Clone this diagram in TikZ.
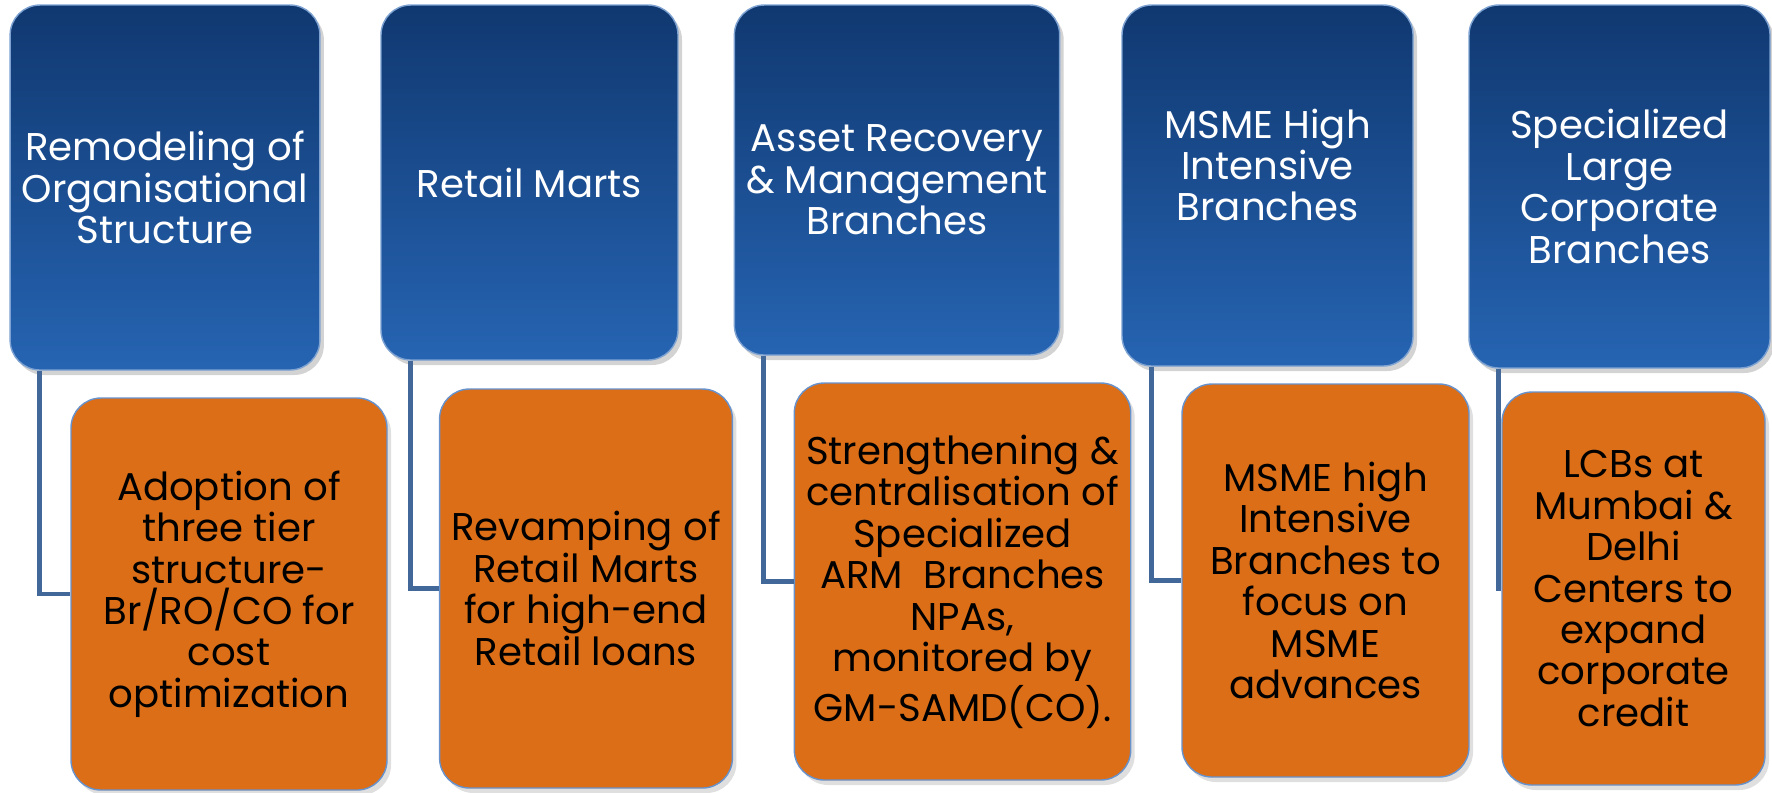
\documentclass[tikz,border=0pt]{standalone}
\usepackage{fontspec}
\setmainfont{Poppins}
\usepackage{xcolor}
\definecolor{ColTop}{RGB}{16,56,112}
\definecolor{ColBot}{RGB}{38,100,178}
\definecolor{ColOr}{RGB}{219,110,23}
\definecolor{ColRim}{RGB}{104,146,204}
\definecolor{ColEdge}{RGB}{66,104,154}
\usepackage{tikz}
\usetikzlibrary{shadows}
\newcommand{\BoxFont}{\fontsize{11}{11.8}\selectfont}
\tikzstyle{Head}=[rectangle,rounded corners=3mm,top color=ColTop,
bottom color=ColBot,draw=ColBot!60!white,thin,text=white,align=center,
font=\BoxFont,drop shadow={opacity=.35,shadow xshift=.4mm,shadow yshift=-.5mm}]
\tikzstyle{Item}=[rectangle,rounded corners=3mm,fill=ColOr,draw=ColRim,
thin,text=black,align=center,font=\BoxFont,
drop shadow={opacity=.25,shadow xshift=.4mm,shadow yshift=-.5mm}]
\tikzstyle{Edge}=[draw=ColEdge,line width=1.3pt]

\begin{document}
\begin{tikzpicture}[x=.1mm,y=-.1mm]
    \useasboundingbox(0,0)rectangle(1772,792);
        \node[Head,minimum width=30.6mm,minimum height=36.5mm](h1)at(165,187.5){
            Remodeling of\\Organisational\\Structure};
        \node[Head,minimum width=29.7mm,minimum height=35.5mm](h2)at(529.5,182.5){
            Retail Marts};
        \node[Head,minimum width=32.2mm,minimum height=35mm](h3)at(897,180){
            Asset Recovery\\\& Management\\Branches};
        \node[Head,minimum width=29.1mm,minimum height=36.1mm](h4)at(1267.5,185.5){
            MSME High\\Intensive\\Branches\\~};
        \node[Head,minimum width=30.1mm,minimum height=36.3mm](h5)at(1619.5,186.5){
            Specialized\\Large\\Corporate\\Branches};
        \node[Item,minimum width=31.6mm,minimum height=39.2mm](i1)at(229,594){
            Adoption of\\three tier\\structure-\\Br/RO/CO for\\cost\\optimization};
        \node[Item,minimum width=29.2mm,minimum height=39.9mm](i2)at(586,588.5){
            Revamping of\\Retail Marts\\for high-end\\Retail loans};
        \node[Item,minimum width=32.7mm,minimum height=39.7mm](i3)at(962.5,581.5){
            Strengthening \&\\centralisation of\\Specialized\\ARM\ \ Branches\\NPAs,\\monitored by\\GM-SAMD(CO).};
        \node[Item,minimum width=28.7mm,minimum height=39.3mm](i4)at(1325.5,580.5){
            MSME high\\Intensive\\Branches to\\focus on\\MSME\\advances};
        \node[Item,minimum width=26.3mm,minimum height=39.3mm](i5)at(1633.5,588.5){
            LCBs at\\Mumbai \&\\Delhi\\Centers to\\expand\\corporate\\credit};
        \draw[Edge]([xshift=3mm]h1.south west)|-(i1.west);
        \draw[Edge]([xshift=3mm]h2.south west)|-(i2.west);
        \draw[Edge]([xshift=3mm]h3.south west)|-(i3.west);
        \draw[Edge]([xshift=3mm]h4.south west)|-(i4.west);
        \draw[Edge]([xshift=3mm]h5.south west)|-(i5.west);
    \end{tikzpicture}
\end{document}
